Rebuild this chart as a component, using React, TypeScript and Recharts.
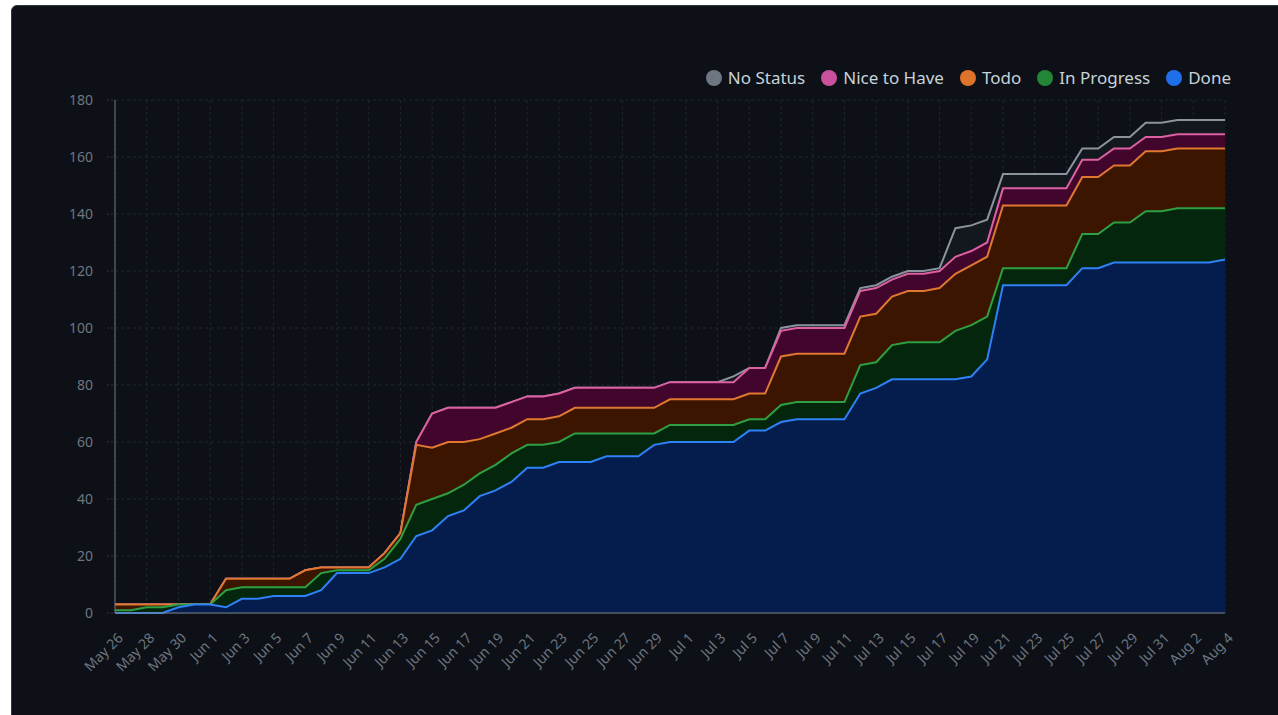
import React from "react";
import { AreaChart, Area, XAxis, YAxis, CartesianGrid } from "recharts";

const dates = [
  "May 26", "May 27", "May 28", "May 29", "May 30", "May 31",
  "Jun 1", "Jun 2", "Jun 3", "Jun 4", "Jun 5", "Jun 6", "Jun 7", "Jun 8", "Jun 9", "Jun 10",
  "Jun 11", "Jun 12", "Jun 13", "Jun 14", "Jun 15", "Jun 16", "Jun 17", "Jun 18", "Jun 19", "Jun 20",
  "Jun 21", "Jun 22", "Jun 23", "Jun 24", "Jun 25", "Jun 26", "Jun 27", "Jun 28", "Jun 29", "Jun 30",
  "Jul 1", "Jul 2", "Jul 3", "Jul 4", "Jul 5", "Jul 6", "Jul 7", "Jul 8", "Jul 9", "Jul 10",
  "Jul 11", "Jul 12", "Jul 13", "Jul 14", "Jul 15", "Jul 16", "Jul 17", "Jul 18", "Jul 19", "Jul 20",
  "Jul 21", "Jul 22", "Jul 23", "Jul 24", "Jul 25", "Jul 26", "Jul 27", "Jul 28", "Jul 29", "Jul 30",
  "Jul 31", "Aug 1", "Aug 2", "Aug 3", "Aug 4",
];

const done = [
  0, 0, 0, 0, 2, 3, 3, 2, 5, 5, 6, 6, 6, 8, 14, 14, 14, 16, 19, 27, 29, 34, 36, 41, 43, 46,
  51, 51, 53, 53, 53, 55, 55, 55, 59, 60, 60, 60, 60, 60, 64, 64, 67, 68, 68, 68, 68, 77, 79, 82,
  82, 82, 82, 82, 83, 89, 115, 115, 115, 115, 115, 121, 121, 123, 123, 123, 123, 123, 123, 123, 124,
];
const inProgress = [
  1, 1, 2, 2, 1, 0, 0, 6, 4, 4, 3, 3, 3, 6, 1, 1, 1, 3, 7, 11, 11, 8, 9, 8, 9, 10,
  8, 8, 7, 10, 10, 8, 8, 8, 4, 6, 6, 6, 6, 6, 4, 4, 6, 6, 6, 6, 6, 10, 9, 12,
  13, 13, 13, 17, 18, 15, 6, 6, 6, 6, 6, 12, 12, 14, 14, 18, 18, 19, 19, 19, 18,
];
const todo = [
  2, 2, 1, 1, 0, 0, 0, 4, 3, 3, 3, 3, 6, 2, 1, 1, 1, 2, 2, 21, 18, 18, 15, 12, 11, 9,
  9, 9, 9, 9, 9, 9, 9, 9, 9, 9, 9, 9, 9, 9, 9, 9, 17, 17, 17, 17, 17, 17, 17, 17,
  18, 18, 19, 20, 21, 21, 22, 22, 22, 22, 22, 20, 20, 20, 20, 21, 21, 21, 21, 21, 21,
];
const niceToHave = [
  0, 0, 0, 0, 0, 0, 0, 0, 0, 0, 0, 0, 0, 0, 0, 0, 0, 0, 0, 1, 12, 12, 12, 11, 9, 9,
  8, 8, 8, 7, 7, 7, 7, 7, 7, 6, 6, 6, 6, 6, 9, 9, 9, 9, 9, 9, 9, 9, 9, 6,
  6, 6, 6, 6, 5, 5, 6, 6, 6, 6, 6, 6, 6, 6, 6, 5, 5, 5, 5, 5, 5,
];
const noStatus = [
  0, 0, 0, 0, 0, 0, 0, 0, 0, 0, 0, 0, 0, 0, 0, 0, 0, 0, 0, 0, 0, 0, 0, 0, 0, 0,
  0, 0, 0, 0, 0, 0, 0, 0, 0, 0, 0, 0, 0, 2, 0, 0, 1, 1, 1, 1, 1, 1, 1, 1,
  1, 1, 1, 10, 9, 8, 5, 5, 5, 5, 5, 4, 4, 4, 4, 5, 5, 5, 5, 5, 5,
];

const yTicks = [0, 20, 40, 60, 80, 100, 120, 140, 160, 180];
const xTicks = dates.filter((_, i) => i % 2 === 0);

const series = [
  { key: "cNoStatus", name: "No Status", line: "#8b949e", fill: "#13171e", dot: "#6e7681" },
  { key: "cNice", name: "Nice to Have", line: "#db61a2", fill: "#42052b", dot: "#c9509a" },
  { key: "cTodo", name: "Todo", line: "#e0782f", fill: "#3b1500", dot: "#e0732b" },
  { key: "cInProgress", name: "In Progress", line: "#2ea043", fill: "#03260d", dot: "#238636" },
  { key: "cDone", name: "Done", line: "#2f81f7", fill: "#051d4d", dot: "#1f6feb" },
];

const data = dates.map((date, i) => {
  const d = done[i];
  const p = d + inProgress[i];
  const t = p + todo[i];
  const n = t + niceToHave[i];
  const s = n + noStatus[i];
  return { date, cDone: d, cInProgress: p, cTodo: t, cNice: n, cNoStatus: s };
});

const FONT = "'Noto Sans', 'Open Sans', sans-serif";

const XTick = (props: any) => {
  const { x, y, payload } = props;
  return (
    <g transform={`translate(${x + 6},${y + 15})`}>
      <text
        x={0}
        y={0}
        dy={4}
        textAnchor="end"
        transform="rotate(-45)"
        fill="#6e7681"
        fontSize={14}
        fontFamily={FONT}
      >
        {payload.value}
      </text>
    </g>
  );
};

export default function App() {
  return (
    <div
      style={{
        position: "fixed",
        left: 0,
        top: 0,
        width: 1278,
        height: 715,
        background: "#ffffff",
        overflow: "hidden",
      }}
    >
      <div
        style={{
          position: "absolute",
          left: 11,
          top: 5,
          width: 1300,
          height: 740,
          background: "#0d1117",
          border: "1px solid #30363d",
          borderRadius: 6,
          boxSizing: "border-box",
        }}
      />
      <div
        style={{
          position: "absolute",
          right: 47,
          top: 66,
          display: "flex",
          alignItems: "center",
          fontFamily: FONT,
          fontSize: 17,
          color: "#c9d1d9",
          gap: 16,
        }}
      >
        {series.map((s) => (
          <div key={s.key} style={{ display: "flex", alignItems: "center" }}>
            <span
              style={{
                display: "inline-block",
                width: 16,
                height: 16,
                borderRadius: 8,
                background: s.dot,
                marginRight: 6,
              }}
            />
            <span>{s.name}</span>
          </div>
        ))}
      </div>
      <div style={{ position: "absolute", left: 0, top: 0 }}>
        <AreaChart
          width={1278}
          height={715}
          data={data}
          margin={{ top: 100, right: 53, bottom: 42, left: 40 }}
        >
          <CartesianGrid stroke="#21262d" strokeDasharray="3 3" />
          <XAxis
            dataKey="date"
            ticks={xTicks}
            interval={0}
            tick={<XTick />}
            height={60}
            axisLine={{ stroke: "#7d8590" }}
            tickLine={false}
          />
          <YAxis
            domain={[0, 180]}
            ticks={yTicks}
            width={75}
            tick={{ fill: "#6e7681", fontSize: 14, fontFamily: FONT }}
            axisLine={{ stroke: "#6e7681" }}
            tickLine={{ stroke: "#30363d", strokeDasharray: "2 2" }}
            tickSize={8}
            tickMargin={14}
          />
          {series.map((s) => (
            <Area
              key={s.key}
              type="linear"
              dataKey={s.key}
              name={s.name}
              stroke={s.line}
              strokeWidth={2}
              fill={s.fill}
              fillOpacity={1}
              dot={false}
              activeDot={false}
              isAnimationActive={false}
            />
          ))}
        </AreaChart>
      </div>
    </div>
  );
}
